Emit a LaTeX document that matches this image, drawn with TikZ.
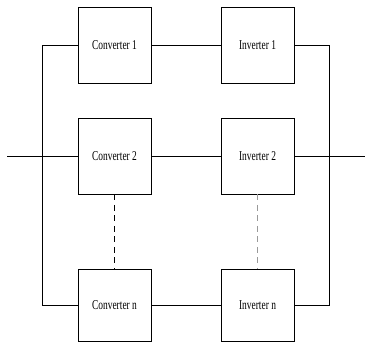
\documentclass[tikz,border=0pt]{standalone}
\usepackage{fontspec}
\setmainfont{Liberation Serif}
\begin{document}
\begin{tikzpicture}[x=1pt,y=-1pt,
  blk/.style={draw,line width=0.8pt,minimum width=73pt,minimum height=76pt,inner sep=0pt,
    font=\fontsize{13.5}{13.5}\selectfont},
  wire/.style={line width=0.8pt},
  dash1/.style={line width=0.8pt,dash pattern=on 6pt off 4.5pt},
  dash2/.style={line width=0.9pt,draw=gray!80,dash pattern=on 6pt off 4.5pt}]
\useasboundingbox (0,0) rectangle (365,342);
\node[blk] (c1) at (114.5,45) {\scalebox{0.7}[1]{Converter 1}};
\node[blk] (i1) at (257.5,45) {\scalebox{0.7}[1]{Inverter 1}};
\node[blk] (c2) at (114.5,156) {\scalebox{0.7}[1]{Converter 2}};
\node[blk] (i2) at (257.5,156) {\scalebox{0.7}[1]{Inverter 2}};
\node[blk,minimum height=72pt] (cn) at (114.5,305) {\scalebox{0.7}[1]{Converter n}};
\node[blk,minimum height=72pt] (in) at (257.5,305) {\scalebox{0.7}[1]{Inverter n}};
\coordinate (lt) at (42,45);
\coordinate (lb) at (42,305);
\coordinate (rt) at (329,45);
\coordinate (rb) at (329,305);
\coordinate (inL) at (7,156);
\coordinate (outR) at (365,156);
\draw[wire] (c1.west) -- (lt) -- (lb) -- (cn.west);
\draw[wire] (i1.east) -- (rt) -- (rb) -- (in.east);
\draw[wire] (c1.east) -- (i1.west);
\draw[wire] (c2.east) -- (i2.west);
\draw[wire] (cn.east) -- (in.west);
\draw[wire] (inL) -- (c2.west);
\draw[wire] (i2.east) -- (outR);
\draw[dash1] (c2.south) -- (cn.north);
\draw[dash2] (i2.south) -- (in.north);
\end{tikzpicture}
\end{document}
